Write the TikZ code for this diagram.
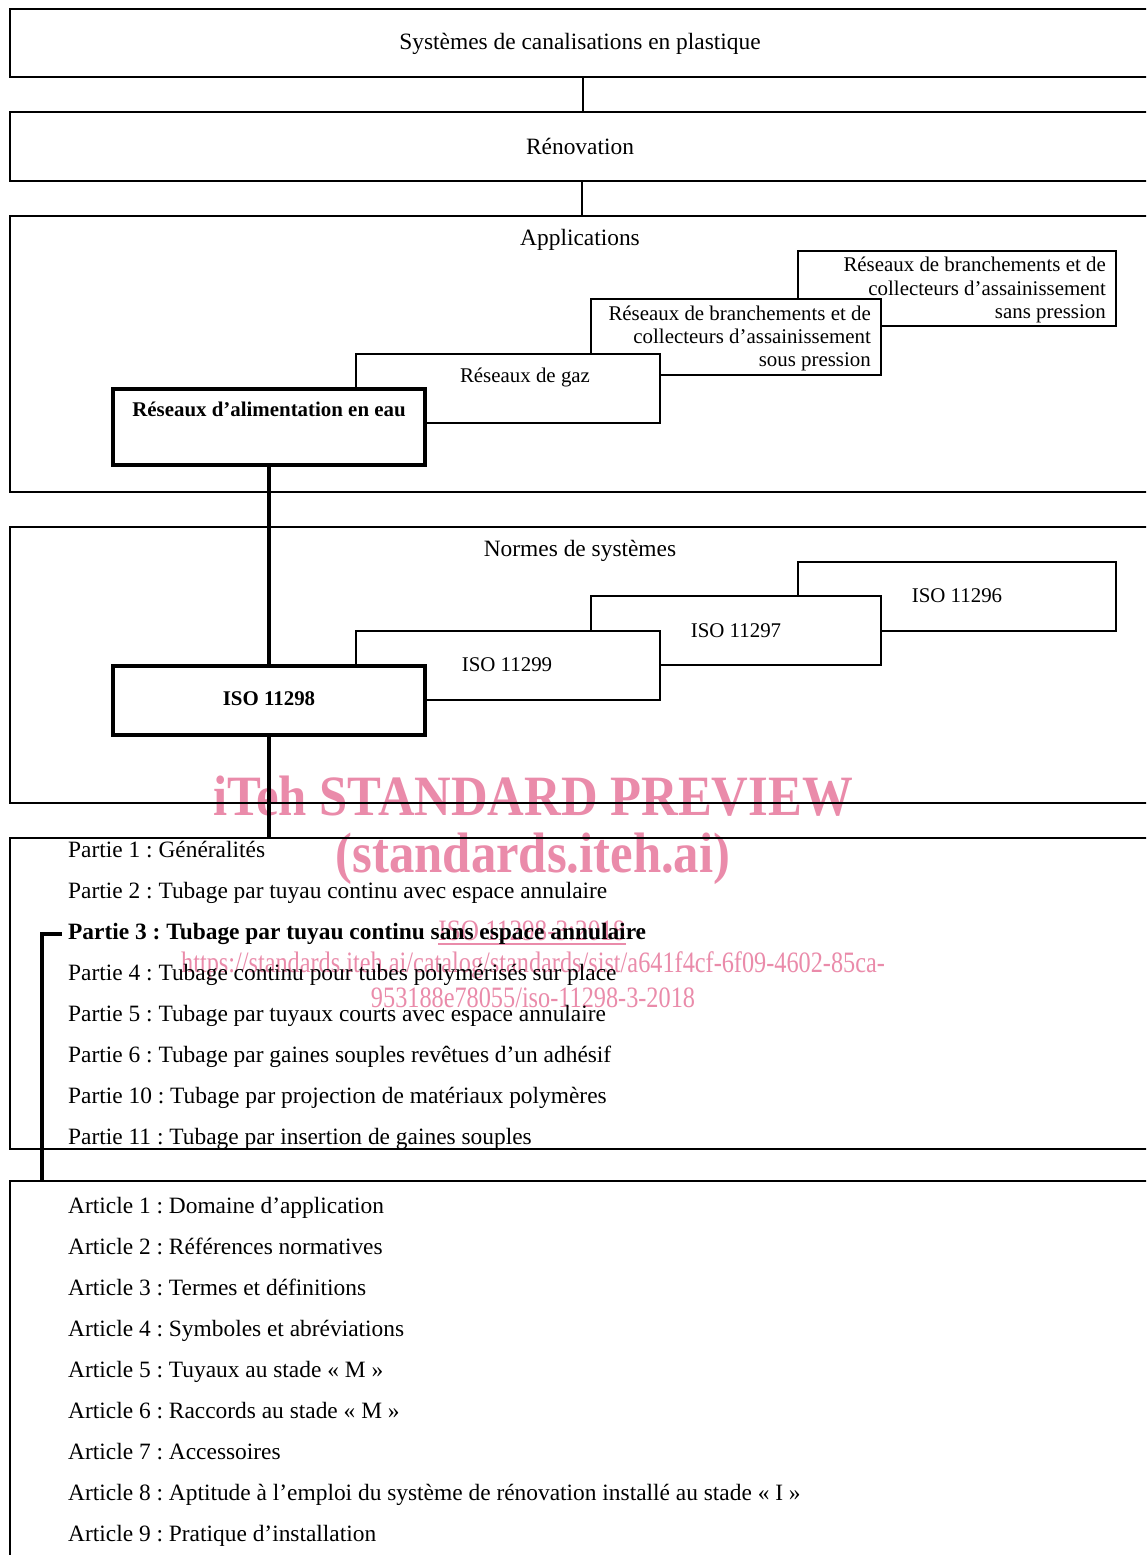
\documentclass[tikz,border=0pt]{standalone}
\usepackage{fontspec}
\setmainfont{Liberation Serif}
\frenchspacing
\newcommand\mainsz{\fontsize{23.4pt}{28pt}\selectfont}
\newcommand\boxsz{\fontsize{20.9pt}{23.5pt}\selectfont}
\newcommand\wmbigsz{\fontsize{57pt}{60pt}\selectfont\bfseries}
\newcommand\wmsmallsz{\fontsize{29.6pt}{32pt}\selectfont}
\definecolor{wmpink}{RGB}{234,139,170}
\tikzset{
  thinbox/.style={draw, line width=1.5pt, inner sep=0pt, outer sep=0pt, anchor=north west},
  filledbox/.style={thinbox, fill=white},
  thickbox/.style={filledbox, line width=3.5pt},
  thinline/.style={line width=1.5pt},
  thickline/.style={line width=3.5pt},
  txt/.style={inner sep=0pt, font=\mainsz},
  btxt/.style={inner sep=0pt, font=\boxsz},
  wmbig/.style={inner sep=0pt, text=wmpink, font=\wmbigsz, anchor=base},
  wmsmall/.style={inner sep=0pt, text=wmpink, font=\wmsmallsz, anchor=base},
}
\begin{document}
\begin{tikzpicture}[x=1pt,y=-1pt]
\useasboundingbox (0,0) rectangle (1146,1555);
\clip (0,0) rectangle (1146,1555);
\fill[white] (0,0) rectangle (1146,1555);

% watermark (underneath)
\node[wmbig] (wm1) at (533,815) {\scalebox{0.89}[1]{iTeh STANDARD PREVIEW}};
\node[wmbig] (wm2) at (533,872) {\scalebox{0.89}[1]{(standards.iteh.ai)}};
\node[wmsmall] (wm3) at (532,940) {\scalebox{0.85}[1]{ISO 11298-3:2018}};
\draw[wmpink, line width=1.6pt] ([yshift=-4pt]wm3.base west) -- ([yshift=-4pt]wm3.base east);
\node[wmsmall] (wm4) at (533,972) {\scalebox{0.82}[1]{https://standards.iteh.ai/catalog/standards/sist/a641f4cf-6f09-4602-85ca-}};
\node[wmsmall] (wm5) at (533,1007) {\scalebox{0.82}[1]{953188e78055/iso-11298-3-2018}};

% top boxes
\node[thinbox, minimum width=1140pt, minimum height=68pt] (sys) at (10,9) {};
\node[txt, anchor=base] (systxt) at (580,50) {Systèmes de canalisations en plastique};
\node[thinbox, minimum width=1140pt, minimum height=69pt] (ren) at (10,112) {};
\node[txt, anchor=base] (rentxt) at (580,154) {Rénovation};
\draw[thinline] ([xshift=3pt]sys.south) -- ([xshift=3pt]ren.north);

% applications
\node[thinbox, minimum width=1140pt, minimum height=276pt] (app) at (10,216) {};
\draw[thinline] ([xshift=2pt]ren.south) -- ([xshift=2pt]app.north);
\node[txt, anchor=base] (apptxt) at (580,245) {Applications};

\node[filledbox, minimum width=318pt, minimum height=75pt] (sans) at (798,251) {};
\node[btxt, anchor=base east] (sans1) at (1106,271) {Réseaux de branchements et de};
\node[btxt, anchor=base east] (sans2) at (1106,295) {collecteurs d’assainissement};
\node[btxt, anchor=base east] (sans3) at (1106,318) {sans pression};

\node[filledbox, minimum width=290pt, minimum height=76pt] (sous) at (591,299) {};
\node[btxt, anchor=base east] (sous1) at (871,320) {Réseaux de branchements et de};
\node[btxt, anchor=base east] (sous2) at (871,343) {collecteurs d’assainissement};
\node[btxt, anchor=base east] (sous3) at (871,366) {sous pression};

\node[filledbox, minimum width=304pt, minimum height=69pt] (gaz) at (356,354) {};
\node[btxt, anchor=base] (gaztxt) at (525,382) {Réseaux de gaz};

\node[thickbox, minimum width=312pt, minimum height=76pt] (eau) at (113,389) {};
\node[btxt, anchor=base, font=\boxsz\bfseries] (eautxt) at (269,416) {Réseaux d’alimentation en eau};

% normes
\node[thinbox, minimum width=1140pt, minimum height=276pt] (normes) at (10,527) {};
\node[txt, anchor=base] (normtxt) at (580,556) {Normes de systèmes};

\node[filledbox, minimum width=318pt, minimum height=69pt] (i96) at (798,562) {};
\node[btxt, anchor=base] (i96txt) at (957,602) {ISO 11296};
\node[filledbox, minimum width=290pt, minimum height=69pt] (i97) at (591,596) {};
\node[btxt, anchor=base] (i97txt) at (736,637) {ISO 11297};
\node[filledbox, minimum width=304pt, minimum height=69pt] (i99) at (356,631) {};
\node[btxt, anchor=base] (i99txt) at (507,671) {ISO 11299};

\node[thickbox, minimum width=312pt, minimum height=69pt] (i98) at (113,666) {};
\node[btxt, anchor=base, font=\boxsz\bfseries] (i98txt) at (269,705) {ISO 11298};
\draw[thickline] (eau.south) -- (i98.north);

% parts
\node[thinbox, minimum width=1140pt, minimum height=311pt] (parts) at (10,838) {};
\draw[thickline] (i98.south) -- (i98.south |- parts.north);
\foreach \t [count=\i] in {Partie 1 : Généralités,
  Partie 2 : Tubage par tuyau continu avec espace annulaire,
  \textbf{Partie 3 : Tubage par tuyau continu sans espace annulaire},
  Partie 4 : Tubage continu pour tubes polymérisés sur place,
  Partie 5 : Tubage par tuyaux courts avec espace annulaire,
  Partie 6 : Tubage par gaines souples revêtues d’un adhésif,
  Partie 10 : Tubage par projection de matériaux polymères,
  Partie 11 : Tubage par insertion de gaines souples}
  \node[txt, anchor=base west] (p\i) at (68,{857+41*(\i-1)}) {\t};

% articles
\node[thinbox, minimum width=1140pt, minimum height=400pt] (arts) at (10,1181) {};
\foreach \t [count=\i] in {Article 1 : Domaine d’application,
  Article 2 : Références normatives,
  Article 3 : Termes et définitions,
  Article 4 : Symboles et abréviations,
  Article 5 : Tuyaux au stade «~M~»,
  Article 6 : Raccords au stade «~M~»,
  Article 7 : Accessoires,
  Article 8 : Aptitude à l’emploi du système de rénovation installé au stade «~I~»,
  Article 9 : Pratique d’installation}
  \node[txt, anchor=base west] (a\i) at (68,{1213+41*(\i-1)}) {\t};

% bracket from Partie 3 to the articles box
\coordinate (b3) at ([xshift=-6pt,yshift=5pt]p3.base west);
\coordinate (brk) at (42,1181);
\draw[thickline] (b3) -| (brk);
\end{tikzpicture}
\end{document}
